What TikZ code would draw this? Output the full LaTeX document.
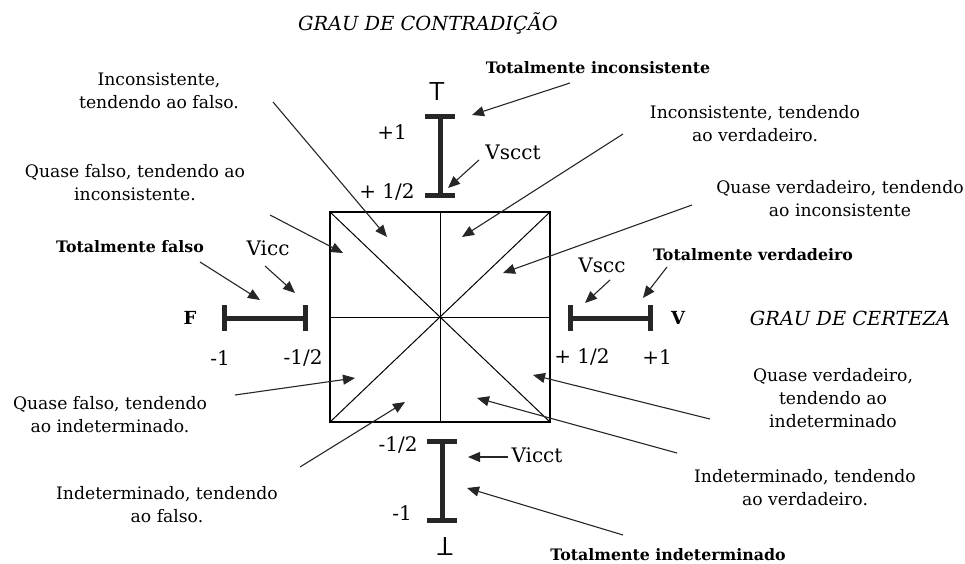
\documentclass[tikz,border=0pt]{standalone}
\usepackage{fontspec}
\setmainfont{DejaVu Serif}
\usetikzlibrary{arrows.meta}
\usetikzlibrary{positioning}

\begin{document}
\begin{tikzpicture}[x=1pt,y=-1pt,>={Triangle[length=12pt,width=10pt]}]
        \tikzstyle{texto}=[align=center, inner sep=0pt, font=\fontsize{17.2}{23}\selectfont]
        \tikzstyle{negrito}=[inner sep=0pt, font=\fontsize{15.8}{18}\selectfont\bfseries]
        \tikzstyle{valor}=[inner sep=0pt, font=\fontsize{20}{22}\selectfont]
        \tikzstyle{grau}=[inner sep=0pt, font=\fontsize{19.4}{22}\selectfont\itshape]
        \tikzstyle{extremo}=[inner sep=0pt, font=\fontsize{26}{26}\selectfont\sffamily]
        \tikzstyle{barra}=[line width=5pt, draw=black!85]
        \tikzstyle{seta}=[->, line width=1.1pt, draw=black!85]
        \useasboundingbox (0,0) rectangle (965,564);
        % quadrado central
        \node[draw, line width=1.5pt, minimum width=220pt, minimum height=210pt, inner sep=0pt] (quadrado) at (440,317) {};
        \draw[line width=1pt] (quadrado.north west) -- (quadrado.south east);
        \draw[line width=1pt] (quadrado.south west) -- (quadrado.north east);
        \draw[line width=1pt] (quadrado.north) -- (quadrado.south);
        \draw[line width=1pt] (quadrado.west) -- (quadrado.east);
        % barras
        \coordinate (cimaA) at (440,117); \coordinate (cimaB) at (440,195);
        \coordinate (baixoA) at (442,441); \coordinate (baixoB) at (442,520);
        \coordinate (esqA) at (224,318); \coordinate (esqB) at (305,318);
        \coordinate (dirA) at (570,318); \coordinate (dirB) at (650,318);
        \draw[barra] (cimaA) -- (cimaB);
        \draw[barra] ([xshift=-15pt]cimaA) -- ([xshift=15pt]cimaA);
        \draw[barra] ([xshift=-15pt]cimaB) -- ([xshift=15pt]cimaB);
        \draw[barra] (baixoA) -- (baixoB);
        \draw[barra] ([xshift=-15pt]baixoA) -- ([xshift=15pt]baixoA);
        \draw[barra] ([xshift=-15pt]baixoB) -- ([xshift=15pt]baixoB);
        \draw[barra] (esqA) -- (esqB);
        \draw[barra] ([yshift=-13pt]esqA) -- ([yshift=13pt]esqA);
        \draw[barra] ([yshift=-13pt]esqB) -- ([yshift=13pt]esqB);
        \draw[barra] (dirA) -- (dirB);
        \draw[barra] ([yshift=-13pt]dirA) -- ([yshift=13pt]dirA);
        \draw[barra] ([yshift=-13pt]dirB) -- ([yshift=13pt]dirB);
        % valores
        \node[extremo] (topo) at (437,92) {T};
        \node[valor] (mais1c) at (392,132) {+1};
        \node[valor] (meioc) at (387,192) {+ 1/2};
        \node[valor] (meiob) at (398,445) {-1/2};
        \node[valor] (menos1b) at (402,513) {-1};
        \node[extremo, rotate=180] (fundo) at (445,546) {T};
        \node[negrito, font=\fontsize{18}{18}\selectfont\bfseries] (F) at (190,318) {F};
        \node[negrito, font=\fontsize{18}{18}\selectfont\bfseries] (V) at (678,318) {V};
        \node[valor] (menos1e) at (220,358) {-1};
        \node[valor] (meioe) at (303,358) {-1/2};
        \node[valor] (meiod) at (582,357) {+ 1/2};
        \node[valor] (mais1d) at (657,357) {+1};
        \node[valor] (vscct) at (513,152) {Vscct};
        \node[valor] (vicc) at (268,248) {Vicc};
        \node[valor] (vscc) at (602,265) {Vscc};
        \node[valor] (vicct) at (537,455) {Vicct};
        % titulos
        \node[grau] (contradicao) at (428,23) {GRAU DE CONTRADIÇÃO};
        \node[grau] (certeza) at (850,318) {GRAU DE CERTEZA};
        % textos
        \node[texto] (incfalso) at (159,91) {Inconsistente,\\ tendendo ao falso.};
        \node[texto] (qfinc) at (135,183) {Quase falso, tendendo ao\\ inconsistente.};
        \node[negrito] (totfalso) at (130,247) {Totalmente falso};
        \node[negrito] (totinc) at (598,68) {Totalmente inconsistente};
        \node[texto] (incverd) at (755,124) {Inconsistente, tendendo\\ ao verdadeiro.};
        \node[texto] (qvinc) at (840,199) {Quase verdadeiro, tendendo\\ ao inconsistente};
        \node[negrito] (totverd) at (753,255) {Totalmente verdadeiro};
        \node[texto] (qvind) at (833,398) {Quase verdadeiro,\\ tendendo ao\\ indeterminado};
        \node[texto] (indverd) at (805,488) {Indeterminado, tendendo\\ ao verdadeiro.};
        \node[negrito] (totind) at (668,555) {Totalmente indeterminado};
        \node[texto] (qfind) at (110,415) {Quase falso, tendendo\\ ao indeterminado.};
        \node[texto] (indfalso) at (167,505) {Indeterminado, tendendo\\ ao falso.};
        % pontas das setas
        \coordinate (incfalsoA) at (273,102); \coordinate (incfalsoB) at (387,237);
        \coordinate (qfincA) at (270,215); \coordinate (qfincB) at (343,253);
        \coordinate (totfalsoA) at (200,262); \coordinate (totfalsoB) at (260,300);
        \coordinate (viccA) at (265,266); \coordinate (viccB) at (295,293);
        \coordinate (totincA) at (570,83); \coordinate (totincB) at (472,115);
        \coordinate (vscctA) at (479,160); \coordinate (vscctB) at (448,188);
        \coordinate (incverdA) at (623,134); \coordinate (incverdB) at (462,237);
        \coordinate (qvincA) at (692,205); \coordinate (qvincB) at (503,273);
        \coordinate (vsccA) at (610,280); \coordinate (vsccB) at (585,303);
        \coordinate (totverdA) at (667,267); \coordinate (totverdB) at (643,298);
        \coordinate (qvindA) at (710,419); \coordinate (qvindB) at (533,375);
        \coordinate (indverdA) at (677,453); \coordinate (indverdB) at (477,398);
        \coordinate (totindA) at (623,535); \coordinate (totindB) at (467,488);
        \coordinate (vicctA) at (508,457); \coordinate (vicctB) at (468,457);
        \coordinate (qfindA) at (235,395); \coordinate (qfindB) at (355,378);
        \coordinate (indfalsoA) at (300,467); \coordinate (indfalsoB) at (405,402);
        \foreach \s in {incfalso,qfinc,totfalso,vicc,totinc,vscct,incverd,qvinc,vscc,totverd,qvind,indverd,totind,vicct,qfind,indfalso}
          \draw[seta] (\s A) -- (\s B);
      \end{tikzpicture}
\end{document}
